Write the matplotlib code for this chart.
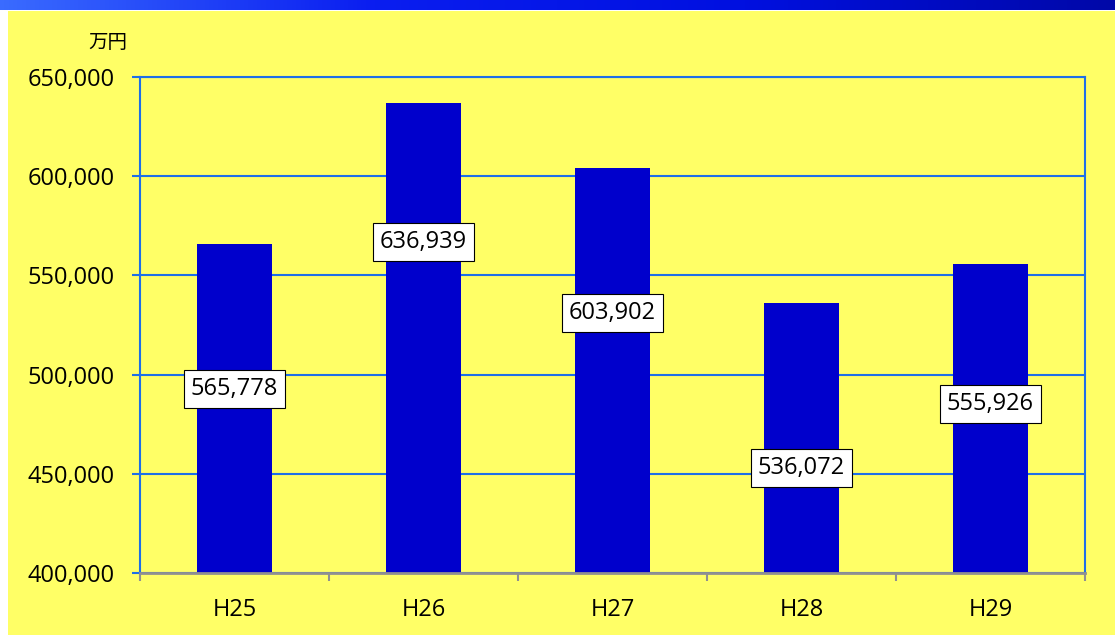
import numpy as np
import matplotlib
matplotlib.use("Agg")
import matplotlib.pyplot as plt
from matplotlib.colors import LinearSegmentedColormap
from matplotlib.ticker import FuncFormatter, FixedLocator

plt.rcParams["font.family"] = ["Open Sans", "Noto Sans CJK JP", "DejaVu Sans"]

years = ["H25", "H26", "H27", "H28", "H29"]
values = [565778, 636939, 603902, 536072, 555926]
# where each value box sits (data units)
label_y = [492700, 566800, 531000, 452900, 485200]

W, H = 1115, 635
fig = plt.figure(figsize=(W / 100, H / 100), dpi=100)
fig.patch.set_facecolor("white")

# yellow background panel
bg = fig.add_axes([8 / W, 0, 1 - 8 / W, 1 - 11 / H])
bg.set_facecolor("#FFFF66")
bg.set_xticks([])
bg.set_yticks([])
for s in bg.spines.values():
    s.set_visible(False)

# gradient strip at top
strip = fig.add_axes([0, 1 - 10 / H, 1, 10 / H])
cmap = LinearSegmentedColormap.from_list("hdr", ["#3A6BFF", "#0A1EF0", "#0010E0", "#0008A8"])
strip.imshow(np.linspace(0, 1, 256)[None, :], aspect="auto", cmap=cmap)
strip.axis("off")

ax = fig.add_axes([140 / W, 1 - 573 / H, (1085 - 140) / W, (573 - 77) / H])
ax.set_facecolor("none")
x = np.arange(len(years))
ax.bar(x, values, width=0.4, color="#0000CC", zorder=2)
ax.set_xlim(-0.5, len(years) - 0.5)
ax.set_ylim(400000, 650000)
ax.set_yticks(np.arange(400000, 650001, 50000))
ax.yaxis.set_major_formatter(FuncFormatter(lambda v, p: f"{int(v):,}"))
ax.yaxis.grid(True, color="#1E6FE8", lw=1.5, zorder=1)
ax.set_xticks(x)
ax.set_xticklabels(years)
ax.xaxis.set_minor_locator(FixedLocator(np.arange(-0.5, len(years), 1)))
ax.tick_params(axis="x", which="major", length=0, pad=18, labelsize=17)
ax.tick_params(axis="x", which="minor", length=6, width=1.5, color="#909090")
ax.tick_params(axis="y", length=6, width=1.5, color="#1E6FE8", labelsize=17, pad=12)
for side in ["left", "top", "right"]:
    ax.spines[side].set_color("#1E6FE8")
    ax.spines[side].set_linewidth(1.5)
ax.spines["bottom"].set_color("#909090")
ax.spines["bottom"].set_linewidth(2)

for xi, v, ly in zip(x, values, label_y):
    ax.text(xi, ly, f"{v:,}", ha="center", va="center", fontsize=17, zorder=4,
            bbox=dict(boxstyle="square,pad=0.3", fc="white", ec="black", lw=0.8))

fig.text(108 / W, 1 - 42 / H, "万円", ha="center", va="center", fontsize=14,
         family=["Noto Sans CJK JP", "DejaVu Sans"])

fig.savefig("out.png", dpi=100)
